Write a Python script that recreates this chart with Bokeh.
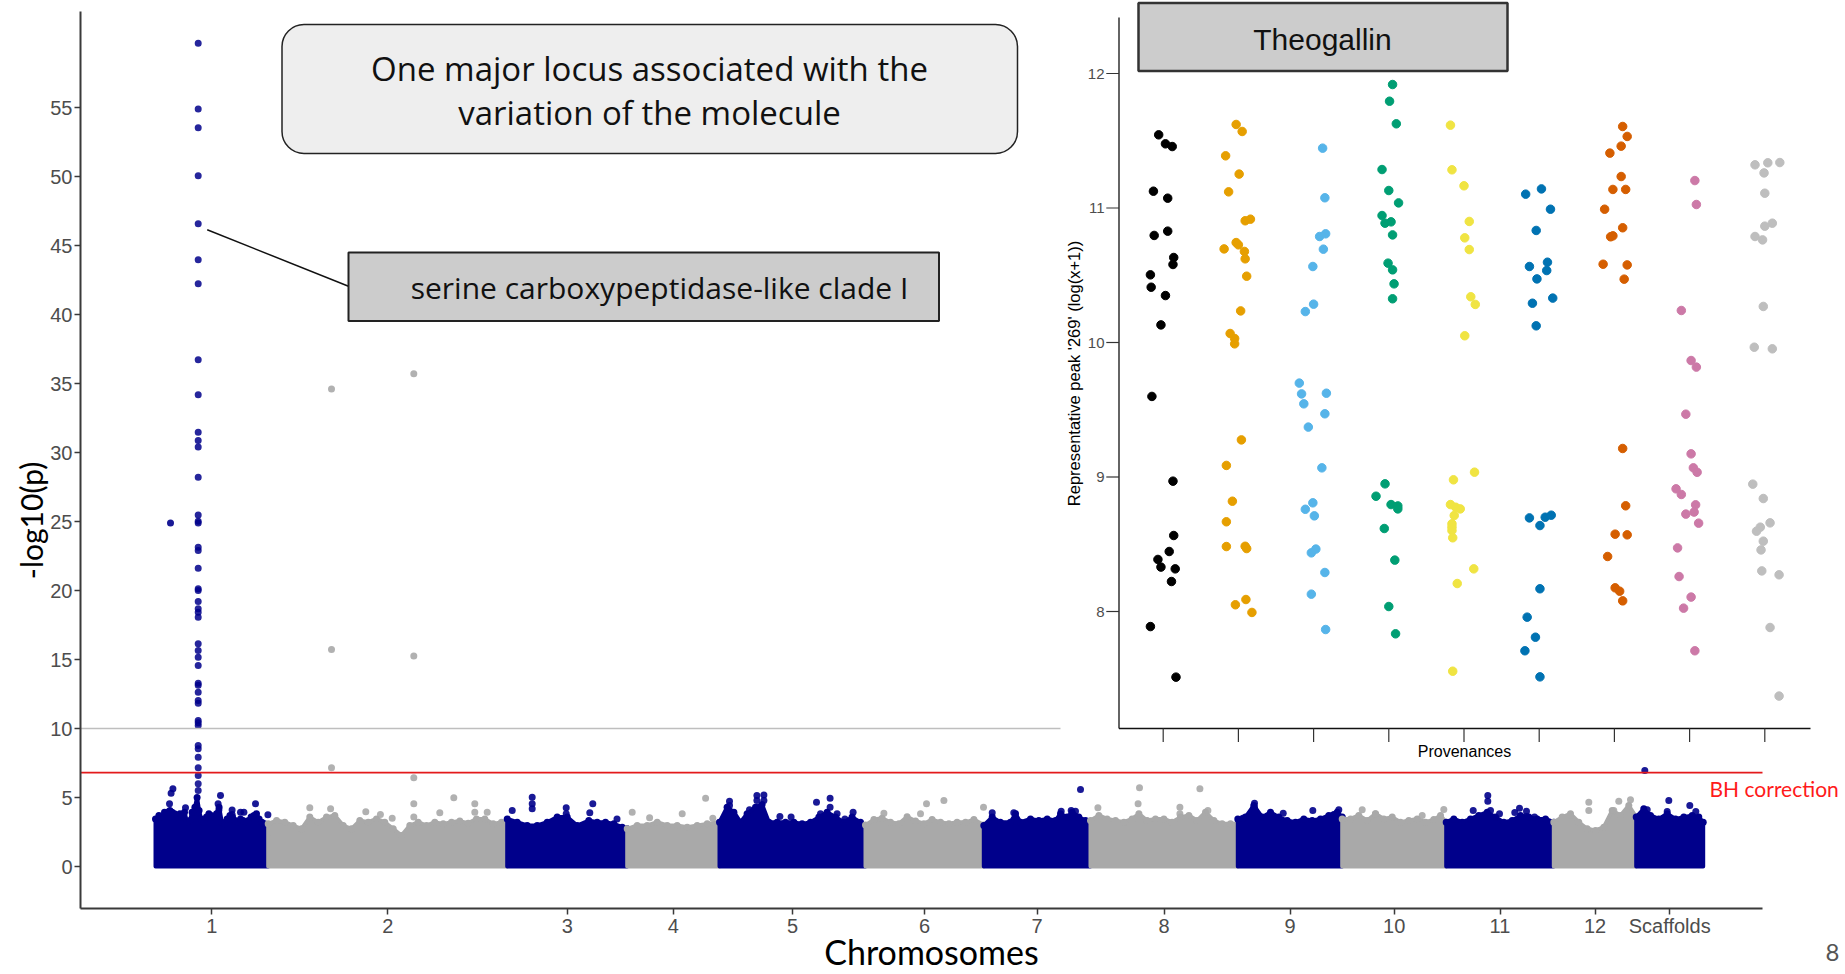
import numpy as np
from bokeh.plotting import figure
from bokeh.models import Range1d, FixedTicker, BoxAnnotation, Label
from bokeh.core.properties import value
from bokeh.embed import file_html
from bokeh.resources import INLINE

# ------------------------------------------------------------------ data
chrom_labels = ["1", "2", "3", "4", "5", "6", "7", "8", "9", "10", "11", "12", "Scaffolds"]
chrom_len = [56.35, 119.5, 60.0, 46.15, 73.0, 59.15, 53.35, 73.65, 52.2, 52.0, 53.8, 41.2, 33.5]

# upper envelope of the dense SNP cloud (position within chromosome, -log10 p)
chr1_pos = [0, 1.7, 3.3, 4.5, 5.8, 7.2, 8.3, 9.5, 10.8, 12.2, 13.3, 14.5, 15.8, 17.2, 18.3, 19.7, 20.8, 21.8,
            22.8, 24.2, 25.5, 26.7, 27.8, 29.2, 30.5, 31.8, 33.2, 34.5, 35.8, 37.2, 38.5, 39.8, 41.2, 42.5,
            43.8, 45.2, 46.5, 47.8, 49.2, 50.5, 51.8, 53.2, 54.5, 56.3]
chr1_top = [3.45, 3.70, 3.58, 3.94, 3.94, 4.06, 3.94, 3.82, 3.58, 3.82, 3.58, 3.94, 3.21, 3.33, 3.94, 4.30,
            5.0, 4.06, 3.45, 3.21, 3.58, 3.82, 3.70, 3.58, 3.82, 4.30, 3.21, 3.09, 3.45, 3.70, 3.58, 3.33,
            3.21, 3.45, 3.33, 3.21, 3.33, 3.58, 3.70, 3.82, 3.45, 3.21, 3.09, 2.85]
chr2_pos = [0, 4.2, 8.3, 12.5, 16.65, 20.8, 25.0, 29.15, 33.3, 37.5, 41.65, 45.8, 50.0, 54.15, 58.3, 62.5,
            66.65, 70.8, 75.0, 79.15, 83.3, 87.5, 91.65, 95.8, 100.0, 104.15, 108.3, 112.5, 116.65, 119.5]
chr2_top = [3.09, 3.33, 3.21, 2.97, 2.73, 3.58, 3.21, 3.58, 3.70, 2.97, 2.73, 3.33, 3.21, 3.45, 3.21, 2.73,
            2.25, 2.97, 3.21, 2.97, 3.21, 3.09, 3.21, 3.29, 3.14, 3.45, 3.45, 3.09, 3.21, 3.09]
chr3_pos = [0, 5, 10, 15, 20, 25, 30, 35, 40.8, 45, 49.15, 53.3, 57.5, 60]
chr3_top = [3.45, 3.21, 2.97, 2.97, 3.21, 3.58, 3.58, 2.97, 3.33, 3.21, 3.21, 3.09, 2.85, 2.73]
chr4_pos = [0, 5, 10, 15, 20, 25, 30, 35, 40, 46.15]
chr4_top = [2.73, 2.97, 2.97, 3.21, 2.97, 2.97, 2.85, 2.97, 3.09, 3.21]
chr5_pos = [0, 3.8, 7.2, 10.5, 13.8, 18, 21.3, 24.7, 28.8, 33, 37.2, 41.3, 45.5, 49.7, 53.8, 58, 62.2, 66.3,
            70.5, 73]
chr5_top = [3.21, 4.30, 3.94, 3.21, 3.82, 4.30, 4.50, 3.21, 3.21, 3.21, 3.21, 3.09, 3.21, 3.58, 3.94, 3.58,
            3.21, 3.58, 3.21, 2.97]
chr6_pos = [0, 4.2, 8.3, 12.5, 16.7, 20.8, 25, 29.2, 33.3, 37.5, 41.7, 45.8, 50, 54.2, 59.15]
chr6_top = [3.0, 3.4, 3.5, 3.2, 3.1, 3.6, 3.3, 3.1, 3.4, 3.2, 3.1, 3.2, 3.2, 3.4, 3.0]
chr7_pos = [0, 4.2, 8.3, 13.3, 15.85, 18.35, 23.35, 27.5, 31.7, 35.85, 38.35, 41.7, 44.2, 47.5, 50.85, 53.35]
chr7_top = [2.97, 3.58, 3.21, 3.21, 3.82, 3.21, 3.45, 3.33, 3.45, 3.33, 3.82, 3.58, 3.94, 3.58, 3.33, 3.21]
chr8_pos = [0, 4.2, 8.3, 12.5, 16.7, 20.8, 24.2, 28.3, 32.5, 36.7, 40.8, 45, 49.2, 53.3, 57.5, 61.7, 65.8,
            70, 73.65]
chr8_top = [3.33, 3.70, 3.45, 3.33, 3.21, 3.45, 3.82, 3.33, 3.45, 3.45, 3.21, 3.58, 3.70, 3.33, 3.94, 3.33,
            3.09, 3.09, 3.09]
chr9_pos = [0, 3.85, 8, 12.2, 16.35, 20.5, 24.7, 28.85, 33, 37.2, 41.35, 45.5, 49.7, 52.2]
chr9_top = [3.45, 3.58, 4.42, 3.58, 3.94, 3.58, 3.33, 3.21, 3.45, 3.33, 3.45, 3.70, 3.94, 3.58]
chr10_pos = [0, 4.15, 8.3, 12.5, 16.65, 20.8, 25, 29.15, 33.3, 37.5, 41.65, 45.8, 49.15, 52]
chr10_top = [3.45, 3.45, 3.70, 3.33, 3.82, 3.45, 3.58, 3.21, 3.33, 3.45, 3.21, 3.40, 3.70, 3.21]
chr11_pos = [0, 3.8, 8, 12.15, 16.3, 20.5, 24.65, 28.8, 33, 37.15, 41.3, 45.5, 49.65, 53.8]
chr11_top = [3.21, 3.45, 3.21, 3.45, 3.70, 3.94, 3.58, 3.21, 3.33, 3.70, 3.58, 3.45, 3.45, 3.21]
chr12_pos = [0, 4.2, 8.35, 12.5, 16.7, 20.85, 25, 29.2, 33.35, 37.5, 41.2]
chr12_top = [3.21, 3.58, 3.82, 3.21, 2.73, 2.61, 2.85, 4.06, 3.70, 4.42, 3.58]
scaf_pos = [0, 3.8, 7.15, 11.3, 15.5, 19.65, 23.8, 28, 31.3, 33.5]
scaf_top = [3.58, 4.18, 3.70, 3.45, 3.82, 3.45, 3.58, 3.70, 3.58, 3.21]

# individual SNPs standing out of the cloud (chromosome index 1..13, position, -log10 p)
peak_logp = [59.66, 54.9, 53.53, 50.05, 46.57, 43.96, 42.22, 36.72, 34.18, 31.47, 30.87, 30.39, 28.21,
             25.48, 25.02, 24.9, 23.14, 22.9, 21.62, 20.12, 20.0, 19.2, 18.67, 18.43, 18.07, 16.14, 15.65,
             15.17, 14.57, 13.28, 13.14, 12.63, 12.03, 11.83, 10.58, 10.41, 10.22, 8.77, 8.53, 7.92, 7.15,
             6.59, 5.99, 5.5]
peak_chrom = 1
peak_pos = 21.35
out_chrom = [1] * 14 + [2] * 18 + [3] * 9 + [4] * 5 + [5] * 16 + [6] * 5 + [7] * 6 + [8] * 7 + [9] * 8 \
    + [10] * 4 + [11] * 10 + [12] * 6 + [13] * 6
out_pos = [7.5, 8.7, 7.8, 7.0, 15.0, 32.5, 31.3, 31.7, 38.3, 38.3, 42.5, 44.2, 50.0, 56.2,
           31.65, 31.65, 31.65, 72.8, 72.8, 72.8, 72.8, 72.8, 92.8, 103.3, 103.3, 109.5, 85.8, 48.8, 56.1,
           62.0, 20.8, 31.2,
           2.5, 12.5, 12.5, 12.5, 29.5, 29.5, 42.8, 41.3, 54.9,
           2.5, 11.2, 27.5, 39.2, 42.8,
           5.0, 5.0, 15.0, 18.7, 22.2, 18.7, 22.2, 30.2, 35.8, 48.5, 55.3, 55.3, 50.5, 58.8, 62.7, 66.8,
           30.5, 39.2, 59.0, 9.2, 27.5,
           48.35, 38.7, 43.7, 45.85, 15.0, 4.2,
           24.5, 54.7, 23.8, 3.7, 44.7, 44.7, 58.7,
           8.35, 8.35, 8.35, 37.5, 50.5, 48.0, 22.7, 2.5,
           10.0, 16.65, 40.0, 50.8,
           20.8, 20.8, 22.15, 13.5, 36.65, 34.3, 40.15, 40.15, 26.65, 44.15,
           17.5, 17.5, 32.5, 38.35, 8.0, 30.0,
           4.3, 16.3, 26.8, 29.8, 5.5, 15.5]
out_logp = [24.9, 5.63, 5.31, 4.54, 4.25, 5.15, 4.54, 4.10, 4.10, 3.77, 3.93, 3.93, 4.54, 3.75,
            34.6, 15.72, 7.15, 35.7, 15.26, 6.43, 4.54, 3.58, 4.98, 4.54, 3.94, 3.94, 3.89, 3.96, 3.77,
            3.50, 4.25, 4.18,
            4.06, 5.02, 4.54, 4.18, 4.25, 3.82, 4.54, 3.89, 3.45,
            3.94, 3.53, 3.82, 4.95, 3.50,
            4.73, 4.42, 4.11, 5.15, 5.19, 4.78, 4.78, 3.62, 3.58, 4.66, 4.95, 4.30, 3.82, 3.82, 3.45, 3.94,
            4.54, 4.78, 4.30, 3.86, 3.82,
            5.58, 4.01, 4.06, 4.01, 3.89, 3.89,
            5.70, 5.63, 4.54, 4.25, 4.30, 3.82, 4.06,
            4.59, 4.30, 3.94, 4.06, 4.11, 3.77, 3.86, 3.50,
            4.11, 3.82, 3.70, 4.13,
            5.15, 4.73, 4.06, 4.06, 4.23, 3.91, 4.01, 3.62, 3.82, 3.58,
            4.66, 4.06, 4.73, 4.83, 3.70, 4.06,
            6.96, 4.78, 4.42, 3.99, 4.11, 3.99]

BH_THRESHOLD = 6.8
SUGGESTIVE = 10.0
y_ticks = [0, 5, 10, 15, 20, 25, 30, 35, 40, 45, 50, 55]

# inset: representative peak '269' per provenance (jitter offset, value)
prov1_dx = [-0.06, 0.03, 0.12, -0.13, 0.06, -0.12, 0.06, 0.14, 0.13, -0.17, -0.16, 0.03, -0.03, -0.15, 0.13,
            0.14, -0.07, 0.08, -0.03, 0.16, 0.11, -0.17, 0.17]
prov1_y = [11.544, 11.477, 11.457, 11.125, 11.073, 10.796, 10.828, 10.632, 10.58, 10.503, 10.411, 10.349,
           10.131, 9.599, 8.969, 8.565, 8.387, 8.446, 8.33, 8.317, 8.223, 7.888, 7.512]
prov2_dx = [-0.03, 0.05, -0.17, 0.01, -0.13, 0.09, 0.16, -0.19, -0.03, 0.0, 0.08, 0.09, 0.11, 0.03, -0.11,
            -0.05, -0.05, 0.04, -0.16, -0.08, -0.16, -0.16, 0.09, 0.11, -0.04, 0.10, 0.18]
prov2_y = [11.621, 11.569, 11.388, 11.252, 11.12, 10.905, 10.917, 10.696, 10.743, 10.726, 10.677, 10.622,
           10.493, 10.235, 10.067, 10.03, 9.99, 9.276, 9.086, 8.82, 8.667, 8.483, 8.485, 8.468, 8.05, 8.089,
           7.993]
prov3_dx = [0.12, 0.15, 0.08, 0.16, 0.13, -0.01, 0.0, -0.11, -0.19, -0.16, 0.17, -0.13, 0.15, -0.07, 0.11,
            -0.01, -0.11, 0.01, -0.03, 0.03, 0.15, -0.03, 0.16]
prov3_y = [11.445, 11.076, 10.788, 10.808, 10.694, 10.565, 10.285, 10.23, 9.698, 9.618, 9.623, 9.544, 9.47,
           9.371, 9.068, 8.808, 8.76, 8.711, 8.436, 8.464, 8.29, 8.129, 7.866]
prov4_dx = [0.05, 0.01, 0.10, -0.09, 0.0, 0.13, -0.09, -0.05, 0.03, 0.05, -0.01, 0.05, 0.07, 0.05, -0.05,
            -0.17, 0.03, 0.12, 0.12, -0.06, 0.08, 0.0, 0.09]
prov4_y = [11.918, 11.794, 11.626, 11.286, 11.13, 11.038, 10.944, 10.887, 10.897, 10.8, 10.59, 10.54, 10.436,
           10.325, 8.949, 8.857, 8.795, 8.785, 8.763, 8.617, 8.382, 8.037, 7.834]
prov5_dx = [-0.18, -0.16, 0.0, 0.07, 0.01, 0.07, 0.09, 0.15, 0.01, -0.14, 0.14, -0.18, -0.11, -0.05, -0.13,
            -0.16, -0.16, -0.15, -0.16, 0.13, -0.09, -0.15]
prov5_y = [11.616, 11.284, 11.165, 10.9, 10.778, 10.691, 10.34, 10.283, 10.05, 8.979, 9.036, 8.795, 8.775,
           8.763, 8.714, 8.652, 8.602, 8.548, 8.627, 8.317, 8.208, 7.556]
prov6_dx = [0.03, -0.18, 0.15, -0.04, 0.11, -0.13, 0.10, -0.03, 0.18, -0.09, -0.04, -0.13, 0.08, 0.16, 0.01,
            0.01, -0.16, -0.05, -0.19, 0.01]
prov6_y = [11.142, 11.103, 10.991, 10.833, 10.597, 10.565, 10.535, 10.473, 10.33, 10.292, 10.124, 8.696,
           8.701, 8.716, 8.639, 8.169, 7.958, 7.809, 7.708, 7.514]
prov7_dx = [0.11, 0.17, 0.09, -0.06, 0.09, -0.02, 0.15, -0.13, 0.11, -0.05, -0.02, -0.15, 0.17, 0.13, 0.11,
            0.15, 0.01, 0.17, -0.09, 0.01, 0.07, 0.11]
prov7_y = [11.606, 11.532, 11.46, 11.408, 11.234, 11.138, 11.138, 10.991, 10.853, 10.786, 10.793, 10.582,
           10.577, 10.471, 9.212, 8.786, 8.575, 8.57, 8.409, 8.176, 8.151, 8.079]
prov8_dx = [0.07, 0.09, -0.11, 0.02, 0.09, -0.05, 0.02, 0.05, 0.10, -0.18, -0.11, 0.08, -0.05, 0.06, 0.12,
            -0.16, -0.14, 0.02, -0.08, 0.07]
prov8_y = [11.204, 11.026, 10.238, 9.866, 9.817, 9.467, 9.172, 9.068, 9.035, 8.912, 8.87, 8.793, 8.724,
           8.739, 8.657, 8.473, 8.26, 8.107, 8.025, 7.708]
prov9_dx = [-0.13, 0.04, 0.20, -0.01, 0.0, 0.10, 0.0, -0.13, -0.03, -0.02, -0.14, 0.10, -0.16, -0.02, -0.06,
            0.07, -0.11, -0.02, -0.05, -0.04, 0.19, 0.07, 0.19]
prov9_y = [11.321, 11.336, 11.338, 11.261, 11.11, 10.887, 10.865, 10.788, 10.763, 10.268, 9.965, 9.953,
           8.947, 8.84, 8.627, 8.659, 8.597, 8.523, 8.458, 8.302, 8.273, 7.881, 7.371]
inset_yticks = [8, 9, 10, 11, 12]

# ------------------------------------------------------------------ styles / layout
BLUE, GRAY = "#00008B", "#A9A9A9"
prov_colors = ["#000000", "#E69F00", "#56B4E9", "#009E73", "#F0E442", "#0072B2", "#D55E00", "#CC79A7",
               "#BEBEBE"]

W, H = 1845, 974
CHR0_PX, PX_PER_MB = 155.0, 2.0            # main x mapping (page px)
Y0_PY, PX_PER_LOGP = 866.0, 13.8           # main y mapping
IC1_PX, PX_PER_CAT = 1162.7, 75.2          # inset x mapping
I12_PY, PX_PER_I = 73.0, 134.5             # inset y mapping
AXL_PX, AXR_PX, AXT_PY, AXB_PY = 80, 1762, 11, 908   # main axis lines


def mx(px):
    return (px - CHR0_PX) / PX_PER_MB


def my(py):
    return (Y0_PY - py) / PX_PER_LOGP


def ix(px):
    return 1 + (px - IC1_PX) / PX_PER_CAT


def iy(py):
    return 12 - (py - I12_PY) / PX_PER_I


# the frame covers the whole page; axes are pinned inside it with fixed_location
p = figure(width=W, height=H, x_range=Range1d(mx(0), mx(W)), y_range=Range1d(my(H), my(0)),
           output_backend="svg", toolbar_location=None,
           min_border_left=0, min_border_right=0, min_border_top=0, min_border_bottom=0)
p.extra_x_ranges = {"ix": Range1d(ix(0), ix(W))}
p.extra_y_ranges = {"iy": Range1d(iy(H), iy(0))}
p.xgrid.visible = False
p.ygrid.visible = False
p.outline_line_color = None
p.background_fill_color = "white"

# ------------------------------------------------------------------ manhattan
starts = np.concatenate([[0.0], np.cumsum(chrom_len)[:-1]])
ends = starts + np.array(chrom_len)
centers = (starts + ends) / 2
env_pos = [chr1_pos, chr2_pos, chr3_pos, chr4_pos, chr5_pos, chr6_pos, chr7_pos, chr8_pos, chr9_pos,
           chr10_pos, chr11_pos, chr12_pos, scaf_pos]
env_top = [chr1_top, chr2_top, chr3_top, chr4_top, chr5_top, chr6_top, chr7_top, chr8_top, chr9_top,
           chr10_top, chr11_top, chr12_top, scaf_top]
cols = [BLUE if i % 2 == 0 else GRAY for i in range(len(chrom_len))]

for i in range(len(chrom_len)):
    xs = [starts[i] + v for v in env_pos[i]]
    ys = list(env_top[i])
    px_ = [starts[i]] + xs + [ends[i]]
    py_ = [0.0] + ys + [0.0]
    p.patch(px_, py_, fill_color=cols[i], line_color=cols[i], line_width=4, line_join="round")
    p.scatter(xs, ys, size=7, fill_color=cols[i], line_color=None)

ox = [starts[c - 1] + v for c, v in zip(out_chrom, out_pos)]
oc = [cols[c - 1] for c in out_chrom]
p.scatter(ox, out_logp, size=7, fill_color=oc, line_color=None, fill_alpha=0.9)
p.scatter([starts[peak_chrom - 1] + peak_pos] * len(peak_logp), peak_logp, size=7,
          fill_color=BLUE, line_color=None, fill_alpha=0.85)

AX_LO, AX_HI = mx(AXL_PX), mx(AXR_PX)
p.segment(x0=[AX_LO], x1=[AX_HI], y0=[SUGGESTIVE], y1=[SUGGESTIVE], line_color="#BEBEBE", line_width=1.6)

p.xaxis.ticker = FixedTicker(ticks=list(centers), minor_ticks=[])
p.xaxis.major_label_overrides = {float(c): lab for c, lab in zip(centers, chrom_labels)}
p.xaxis.bounds = (AX_LO, AX_HI)
p.xaxis.fixed_location = my(AXB_PY)
p.yaxis.ticker = FixedTicker(ticks=y_ticks, minor_ticks=[])
p.yaxis.bounds = (my(AXB_PY), my(AXT_PY))
p.yaxis.fixed_location = mx(AXL_PX)
for ax in (p.xaxis, p.yaxis):
    ax.axis_line_color = "#3a3a3a"
    ax.axis_line_width = 2
    ax.major_tick_line_color = "#3a3a3a"
    ax.major_tick_line_width = 1.5
    ax.major_tick_out = 6
    ax.major_tick_in = 0
    ax.minor_tick_line_color = None
    ax.major_label_text_font = "Liberation Sans"
    ax.major_label_text_font_size = "20px"
    ax.major_label_text_color = "#4D4D4D"
p.yaxis.major_label_standoff = 2
p.xaxis.major_label_standoff = 0

# ------------------------------------------------------------------ inset
R = dict(x_range_name="ix", y_range_name="iy")
p.quad(left=[ix(1060)], right=[ix(W)], top=[iy(0)], bottom=[iy(765)], fill_color="white",
       line_color=None, **R)

prov_dx = [prov1_dx, prov2_dx, prov3_dx, prov4_dx, prov5_dx, prov6_dx, prov7_dx, prov8_dx, prov9_dx]
prov_y = [prov1_y, prov2_y, prov3_y, prov4_y, prov5_y, prov6_y, prov7_y, prov8_y, prov9_y]
for k in range(9):
    xs = [k + 1 + d for d in prov_dx[k]]
    p.scatter(xs, prov_y[k], size=8.5, fill_color=prov_colors[k], line_color=prov_colors[k], **R)

IXL, IXR = ix(1118.5), ix(1810)
IYB, IYT = iy(728), iy(17)
p.segment(x0=[IXL, IXL], x1=[IXL, IXR], y0=[IYB, IYB], y1=[IYT, IYB], line_color="#111111",
          line_width=1.3, **R)
p.segment(x0=[ix(1118.5 - 12.7)] * len(inset_yticks), x1=[IXL] * len(inset_yticks),
          y0=inset_yticks, y1=inset_yticks, line_color="#333333", line_width=1.2, **R)
inset_xticks = list(range(1, 10))
p.segment(x0=inset_xticks, x1=inset_xticks, y0=[IYB] * 9, y1=[iy(741.5)] * 9,
          line_color="#333333", line_width=1.2, **R)
p.text(x=[ix(1104)] * len(inset_yticks), y=inset_yticks, text=[str(t) for t in inset_yticks],
       text_align="right", text_baseline="middle", text_font=value("Liberation Sans"),
       text_font_size="15px", text_color="#4D4D4D", **R)
p.text(x=[ix(1464)], y=[iy(751)], text=["Provenances"], text_align="center", text_baseline="middle",
       text_font=value("Liberation Sans"), text_font_size="16px", text_color="black", **R)
p.text(x=[ix(1073)], y=[iy(373)], text=["Representative peak '269' (log(x+1))"], angle=np.pi / 2,
       text_align="center", text_baseline="middle", text_font=value("Liberation Sans"),
       text_font_size="16.5px", text_color="black", **R)

# red BH threshold
p.segment(x0=[AX_LO], x1=[AX_HI], y0=[BH_THRESHOLD], y1=[BH_THRESHOLD], line_color="#E31A1C",
          line_width=1.6)

# connector to annotation
p.segment(x0=[mx(206.7)], x1=[mx(348)], y0=[my(229.3)], y1=[my(285.7)], line_color="#111111",
          line_width=1.5)

# ------------------------------------------------------------------ annotations
b1 = BoxAnnotation(left=mx(281.5), right=mx(1017), top=my(24), bottom=my(153), fill_color="#EEEEEE",
                   fill_alpha=1, line_color="#222222", line_alpha=1, line_width=1.5, border_radius=22)
b2 = BoxAnnotation(left=mx(348), right=mx(938.5), top=my(252), bottom=my(320.5), fill_color="#CCCCCC",
                   fill_alpha=1, line_color="#222222", line_alpha=1, line_width=2)
b3 = BoxAnnotation(left=mx(1138), right=mx(1507), top=my(2.5), bottom=my(70.5), fill_color="#CCCCCC",
                   fill_alpha=1, line_color="#333333", line_alpha=1, line_width=2.5)
for b in (b1, b2, b3):
    p.add_layout(b)


def lab(text, px, py, size, font="Open Sans", color="#111111", align="center", angle=0.0,
        baseline="middle"):
    p.add_layout(Label(x=mx(px), y=my(py), text=text, text_font=font, text_font_size=size,
                       text_color=color, text_align=align, text_baseline=baseline, angle=angle))


lab("One major locus associated with the", 649, 68, "33px")
lab("variation of the molecule", 649, 112, "33px")
lab("serine carboxypeptidase-like clade I", 659, 287, "30px")
lab("Theogallin", 1322, 39, "30px", font="Liberation Sans")
lab("BH correction", 1709, 788, "21px", font="Lato", color="#FF1A1A", align="left")
lab("-log10(p)", 30, 520, "30px", font="Lato", color="black", angle=np.pi / 2)
lab("Chromosomes", 931, 951, "34px", font="Lato", color="black")
lab("8", 1832, 952, "24px", font="Lato", color="#555555")

open("out.html", "w").write(file_html(p, INLINE))
